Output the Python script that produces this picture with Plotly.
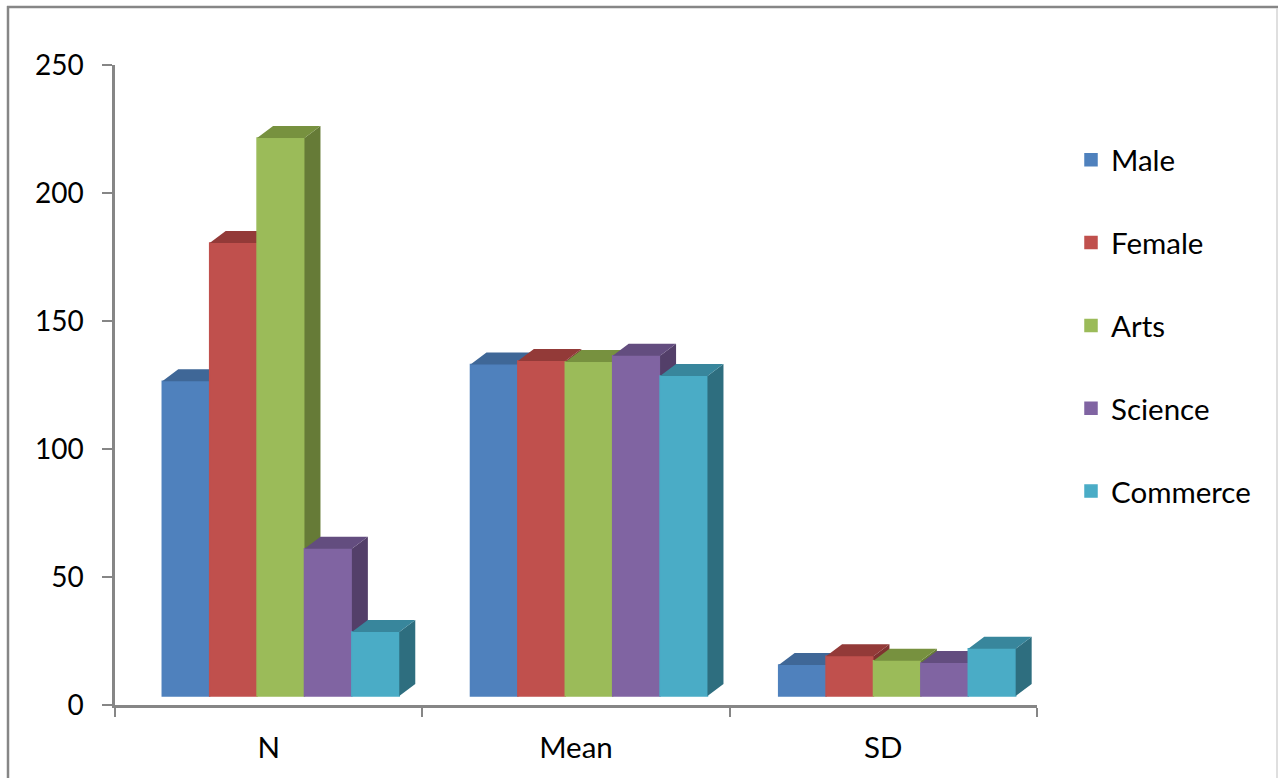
import plotly.graph_objects as go

categories = ["N", "Mean", "SD"]
series_names = ["Male", "Female", "Arts", "Science", "Commerce"]
male = [126.5, 133, 15.6]
female = [180.5, 134.4, 19]
arts = [221.5, 134, 17.3]
science = [61, 136.4, 16.4]
commerce = [28.5, 128.5, 22]
y_ticks = [0, 50, 100, 150, 200, 250]

series_values = [male, female, arts, science, commerce]
front_colors = ["#4F81BD", "#C0504D", "#9BBB59", "#8064A2", "#4AACC6"]
top_colors = ["#3F6797", "#933A38", "#77913F", "#634D7F", "#38869C"]
side_colors = ["#2F4D71", "#7F3230", "#667B37", "#533F69", "#2E6E7F"]

W, H = 1278, 778
PL, PR, PT, PB = 115, 1037, 65, 705
FONT = "Lato"
FS = 29.5
unit_x = (PR - PL) / 3
unit_y = (PB - PT) / 250
bar_w = 47.4 / unit_x
first_off = -106.4 / unit_x
spacing = 308.2 / unit_x
floor = 9 / unit_y
dx = 16 / unit_x
dy = 12 / unit_y
xr = [-0.5, 2.5]
yr = [0, 250]
fx = lambda p: p / W
fy = lambda p: 1 - p / H

fig = go.Figure()
# invisible carrier so the category axis draws its labels
fig.add_trace(go.Bar(x=categories, y=male, marker_opacity=0, showlegend=False,
                     hoverinfo="skip", xaxis="x", yaxis="y"))

for i, (name, vals) in enumerate(zip(series_names, series_values)):
    ax = str(i + 2)
    off = first_off + i * bar_w
    centers = [c * spacing for c in range(len(categories))]
    fig.add_trace(go.Bar(
        x=centers, y=[v - floor for v in vals], base=floor,
        width=bar_w, offset=off, name=name, legendgroup=name,
        marker=dict(color=front_colors[i], line=dict(width=1.5, color=front_colors[i])),
        customdata=vals, hovertemplate=name + ": %{customdata}<extra></extra>",
        xaxis="x" + ax, yaxis="y" + ax))
    tx, ty, sx, sy = [], [], [], []
    for c, v in zip(centers, vals):
        l = c + off
        r = l + bar_w
        tx += [l, l + dx, r + dx, r, l, None]
        ty += [v, v + dy, v + dy, v, v, None]
        sx += [r, r + dx, r + dx, r, r, None]
        sy += [floor, floor + dy, v + dy, v, floor, None]
    for px, py, col in ((sx, sy, side_colors[i]), (tx, ty, top_colors[i])):
        fig.add_trace(go.Scatter(
            x=px, y=py, mode="lines", fill="toself", fillcolor=col,
            line=dict(width=0, color=col), showlegend=False, hoverinfo="skip",
            xaxis="x" + ax, yaxis="y" + ax))

layout = dict(
    width=W, height=H, autosize=False,
    margin=dict(l=0, r=0, t=0, b=0, pad=0),
    paper_bgcolor="white", plot_bgcolor="white",
    barmode="overlay", showlegend=True,
    font=dict(family=FONT, size=FS, color="black"),
    xaxis=dict(type="category", categoryorder="array", categoryarray=categories,
               domain=[fx(PL), fx(PR)], range=xr, tickson="boundaries",
               ticks="outside", ticklen=9, tickwidth=2, tickcolor="#868686",
               showline=True, linecolor="#868686", linewidth=2.5, automargin=False,
               showgrid=False, zeroline=False, ticklabelstandoff=15,
               tickfont=dict(family=FONT, size=FS, color="black")),
    yaxis=dict(domain=[fy(PB), fy(PT)], range=yr, tickmode="array",
               tickvals=y_ticks, ticks="outside", ticklen=10, tickwidth=2,
               tickcolor="#868686", showline=True, linecolor="#868686",
               linewidth=2.5, showgrid=False, zeroline=False, automargin=False,
               ticklabelstandoff=13,
               tickfont=dict(family=FONT, size=28, color="black")),
    legend=dict(x=fx(1071), xanchor="left", y=fy(134), yanchor="top",
                traceorder="grouped", tracegroupgap=41.5,
                font=dict(family=FONT, size=FS, color="black"),
                bgcolor="rgba(0,0,0,0)", borderwidth=0),
    shapes=[
        dict(type="line", xref="paper", yref="paper", x0=fx(7), x1=fx(1278),
             y0=fy(7), y1=fy(7), line=dict(color="#868686", width=2.5)),
        dict(type="line", xref="paper", yref="paper", x0=fx(8), x1=fx(8),
             y0=fy(6), y1=fy(778), line=dict(color="#868686", width=2.5)),
        dict(type="line", xref="paper", yref="paper", x0=fx(1277), x1=fx(1277),
             y0=fy(8), y1=fy(778), line=dict(color="#D4D4D4", width=1.5)),
    ],
)
for i in range(len(series_names)):
    n = i + 2
    layout[f"xaxis{n}"] = dict(domain=[fx(PL), fx(PR)], range=xr, overlaying="x",
                               anchor=f"y{n}", visible=False, automargin=False)
    layout[f"yaxis{n}"] = dict(domain=[fy(PB), fy(PT)], range=yr, overlaying="y",
                               anchor=f"x{n}", visible=False, automargin=False)
fig.update_layout(**layout)
fig.write_html("out.html", config=dict(displayModeBar=False),
               post_script="document.body.style.margin='0';")
